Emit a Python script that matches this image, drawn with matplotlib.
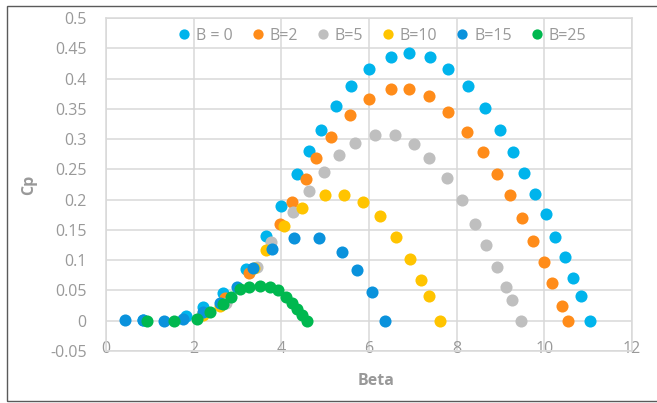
import matplotlib.pyplot as plt
from matplotlib.patches import Rectangle

# Cp vs Beta for several B values
beta_b0 = [0.85, 1.83, 2.21, 2.67, 3.19, 3.64, 3.99, 4.35, 4.64, 4.91, 5.25, 5.60, 6.01, 6.50,
           6.92, 7.39, 7.80, 8.26, 8.65, 8.99, 9.28, 9.54, 9.79, 10.03, 10.25, 10.47, 10.66, 10.83, 11.04]
cp_b0 = [0.002, 0.008, 0.022, 0.046, 0.086, 0.140, 0.189, 0.242, 0.281, 0.315, 0.354, 0.387, 0.415, 0.436,
         0.442, 0.436, 0.416, 0.387, 0.351, 0.315, 0.278, 0.244, 0.210, 0.177, 0.139, 0.105, 0.071, 0.041, 0.0]

beta_b2 = [2.21, 2.72, 3.27, 3.97, 4.24, 4.56, 4.80, 5.13, 5.57, 6.01, 6.50, 6.92, 7.36, 7.80,
           8.24, 8.61, 8.91, 9.22, 9.48, 9.74, 9.99, 10.18, 10.40, 10.55]
cp_b2 = [0.013, 0.037, 0.079, 0.160, 0.196, 0.234, 0.268, 0.304, 0.339, 0.366, 0.382, 0.382, 0.371, 0.345,
         0.311, 0.278, 0.242, 0.207, 0.169, 0.131, 0.097, 0.063, 0.024, 0.0]

beta_b5 = [2.74, 3.44, 3.76, 4.26, 4.62, 4.97, 5.31, 5.69, 6.13, 6.59, 7.03, 7.37, 7.78, 8.12,
           8.41, 8.68, 8.92, 9.13, 9.26, 9.46]
cp_b5 = [0.030, 0.089, 0.130, 0.179, 0.215, 0.245, 0.274, 0.294, 0.307, 0.307, 0.292, 0.268, 0.235, 0.199,
         0.160, 0.125, 0.088, 0.055, 0.035, 0.0]

beta_b10 = [2.21, 2.60, 3.38, 3.64, 4.06, 4.47, 5.00, 5.43, 5.87, 6.25, 6.62, 6.93, 7.19, 7.36, 7.63]
cp_b10 = [0.010, 0.024, 0.087, 0.117, 0.157, 0.187, 0.208, 0.208, 0.196, 0.173, 0.138, 0.102, 0.068, 0.041, 0.0]

beta_b15 = [0.43, 0.85, 1.32, 1.76, 2.21, 2.60, 2.98, 3.36, 3.79, 4.29, 4.86, 5.38, 5.73, 6.07, 6.37]
cp_b15 = [0.002, 0.002, 0.0, 0.003, 0.015, 0.029, 0.056, 0.087, 0.119, 0.136, 0.136, 0.114, 0.084, 0.047, 0.0]

beta_b25 = [0.94, 1.55, 2.08, 2.37, 2.66, 2.86, 3.06, 3.26, 3.51, 3.74, 3.93, 4.10, 4.24, 4.35, 4.47, 4.58]
cp_b25 = [0.0, 0.0, 0.003, 0.015, 0.028, 0.040, 0.053, 0.056, 0.058, 0.056, 0.050, 0.040, 0.029, 0.019, 0.010, 0.0]

series = [
    ("B = 0", beta_b0, cp_b0, "#00B4EC"),
    ("B=2", beta_b2, cp_b2, "#FF8C1A"),
    ("B=5", beta_b5, cp_b5, "#BFBFBF"),
    ("B=10", beta_b10, cp_b10, "#FFC400"),
    ("B=15", beta_b15, cp_b15, "#0A92DC"),
    ("B=25", beta_b25, cp_b25, "#00B84F"),
]

plt.rcParams['font.family'] = ['Open Sans', 'DejaVu Sans']
txt = "#999999"
gridc = "#D9D9D9"

fig = plt.figure(figsize=(6.57, 4.03), dpi=100)
ax = fig.add_axes([106 / 657, 1 - 351 / 403, 526 / 657, 333 / 403])

for name, x, y, c in series:
    ax.plot(x, y, "o", color=c, markersize=8.7, markeredgewidth=0, label=name)

ax.set_xlim(0, 12)
ax.set_ylim(-0.05, 0.5)
ax.set_xticks(range(0, 13, 2))
ax.set_yticks([-0.05, 0, 0.05, 0.1, 0.15, 0.2, 0.25, 0.3, 0.35, 0.4, 0.45, 0.5])
ax.set_yticklabels(["-0.05", "0", "0.05", "0.1", "0.15", "0.2", "0.25", "0.3", "0.35", "0.4", "0.45", "0.5"])
ax.grid(True, color=gridc, linewidth=1.1)
ax.set_axisbelow(True)
for s in ax.spines.values():
    s.set_color(gridc)
    s.set_linewidth(1.1)
ax.tick_params(axis="both", length=0, labelsize=11.5, labelcolor=txt)
ax.tick_params(axis="y", pad=14)
ax.tick_params(axis="x", pad=-7)

ax.set_xlabel("Beta", fontsize=11.5, fontweight="bold", color=txt, va="center")
ax.set_ylabel("Cp", fontsize=11.5, fontweight="bold", color=txt, va="center")
ax.xaxis.set_label_coords((376 - 106) / 526, (351 - 381) / 333)
ax.yaxis.set_label_coords((29 - 106) / 526, 0.5)

ax.legend(loc="center", bbox_to_anchor=((382 - 106) / 526, (351 - 36) / 333), ncol=6,
          frameon=False, fontsize=11.5, labelcolor=txt, handlelength=0.8, handletextpad=0.35,
          columnspacing=1.15, markerscale=0.85, borderaxespad=0)

# outer chart border
fig.patches.append(Rectangle((7 / 657, 2 / 403), 1.0, 395 / 403, transform=fig.transFigure,
                             fill=False, edgecolor="#5A5A5A", linewidth=1.0))

fig.savefig("out.png", dpi=100)
